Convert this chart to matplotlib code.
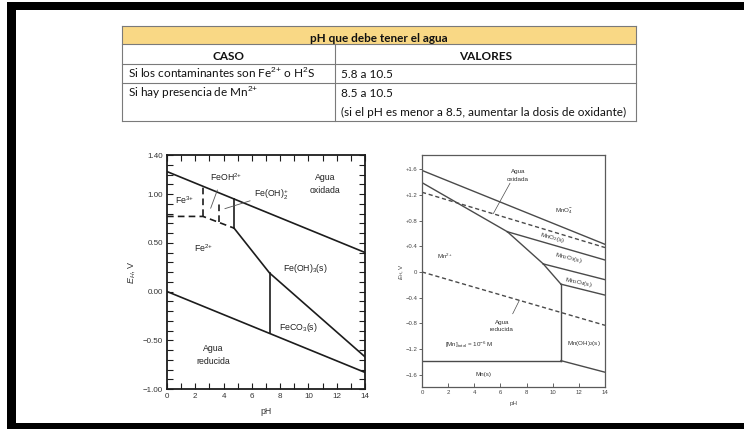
import matplotlib
matplotlib.use('Agg')
import matplotlib.pyplot as plt
from matplotlib.patches import Rectangle

plt.rcParams['font.family'] = ['Liberation Sans', 'DejaVu Sans']
plt.rcParams['mathtext.fontset'] = 'custom'
plt.rcParams['mathtext.rm'] = 'Liberation Sans'
plt.rcParams['mathtext.it'] = 'Liberation Sans:italic'
plt.rcParams['mathtext.bf'] = 'Liberation Sans:bold'

# ---- tabla ----
table_title = 'pH que debe tener el agua'
table_header = ['CASO', 'VALORES']
table_casos = ['Si los contaminantes son Fe$^{2{+}}$ o H$^{2}$S', 'Si hay presencia de Mn$^{2{+}}$']
table_valores = [['5.8 a 10.5'],
                 ['8.5 a 10.5', '(si el pH es menor a 8.5, aumentar la dosis de oxidante)']]

# ---- diagrama Fe ----
ph_ticks = [0, 2, 4, 6, 8, 10, 12, 14]
fe_yticks = [-1.0, -0.5, 0.0, 0.5, 1.0, 1.4]
fe_yticklabels = ['\u22121.00', '\u22120.50', '0.00', '0.50', '1.00', '1.40']

fe_agua_ox_ph, fe_agua_ox_e = [0, 14], [1.23, 0.40]
fe_agua_red_ph, fe_agua_red_e = [0, 14], [0.0, -0.83]
fe_oh2_ph, fe_oh2_e = [4.74, 4.74], [0.95, 0.65]
fe_oh3_ph, fe_oh3_e = [4.74, 7.25, 14], [0.65, 0.19, -0.67]
fe_co3_ph, fe_co3_e = [7.25, 7.25], [0.19, -0.43]
# lineas discontinuas
fe3_fe2_ph, fe3_fe2_e = [0, 2.55, 4.74], [0.77, 0.77, 0.65]
fe3_feoh_ph, fe3_feoh_e = [2.55, 2.55], [0.77, 1.08]
feoh_feoh2_ph, feoh_feoh2_e = [3.68, 3.68], [0.71, 0.93]
# lineas guia de etiquetas
fe_guia1_ph, fe_guia1_e = [3.56, 3.09], [1.04, 0.855]
fe_guia2_ph, fe_guia2_e = [5.87, 4.10], [0.93, 0.85]

fe_labels = ['Agua\noxidada', 'FeOH$^{2{+}}$', 'Fe(OH)$_2^{+}$', 'Fe$^{3{+}}$', 'Fe$^{2{+}}$',
             'Fe(OH)$_3$(s)', 'FeCO$_3$(s)', 'Agua\nreducida']
fe_label_ph = [11.2, 4.2, 7.4, 1.24, 2.6, 9.76, 9.3, 3.3]
fe_label_e = [1.10, 1.17, 0.99, 0.94, 0.445, 0.24, -0.37, -0.65]

# ---- diagrama Mn ----
mn_yticks = [-1.6, -1.2, -0.8, -0.4, 0, 0.4, 0.8, 1.2, 1.6]
mn_yticklabels = ['\u22121.6', '\u22121.2', '\u22120.8', '\u22120.4', '0', '+0.4', '+0.8', '+1.2', '+1.6']

mn_mno4_ph, mn_mno4_e = [0, 14], [1.58, 0.43]
mn2_mno2_ph, mn2_mno2_e = [0, 6.53], [1.39, 0.626]
mno2_mn2o3_ph, mno2_mn2o3_e = [6.53, 14], [0.626, 0.186]
mn2_mn2o3_ph, mn2_mn2o3_e = [6.53, 9.28], [0.626, 0.125]
mn2o3_mn3o4_ph, mn2o3_mn3o4_e = [9.28, 14], [0.125, -0.12]
mn2_mn3o4_ph, mn2_mn3o4_e = [9.28, 10.63], [0.125, -0.19]
mn3o4_mnoh2_ph, mn3o4_mnoh2_e = [10.63, 14], [-0.19, -0.36]
mn2_mnoh2_ph, mn2_mnoh2_e = [10.63, 10.63], [-0.19, -1.38]
mn2_mns_ph, mn2_mns_e = [0, 10.63], [-1.38, -1.38]
mnoh2_mns_ph, mnoh2_mns_e = [10.63, 14], [-1.38, -1.56]
mn_agua_ox_ph, mn_agua_ox_e = [0, 14], [1.24, 0.38]
mn_agua_red_ph, mn_agua_red_e = [0, 14], [0.0, -0.83]
mn_guia1_ph, mn_guia1_e = [6.73, 5.46], [1.38, 0.91]
mn_guia2_ph, mn_guia2_e = [6.94, 7.44], [-0.65, -0.445]

mn_labels = ['Agua\noxidada', 'MnO$_4^{-}$', 'Mn$^{2{+}}$', 'Agua\nreducida',
             '[Mn]$_{\\mathrm{total}}$ = 10$^{{-}6}$ M', 'Mn(OH)$_2$(s)', 'Mn(s)']
mn_label_ph = [7.35, 10.9, 1.76, 6.1, 3.62, 12.35, 4.69]
mn_label_e = [1.50, 0.94, 0.25, -0.84, -1.14, -1.12, -1.60]
mn_rot_labels = ['MnO$_2$(s)', 'Mn$_2$O$_3$(s)', 'Mn$_3$O$_4$(s)']
mn_rot_ph = [10.0, 11.2, 11.95]
mn_rot_e = [0.53, 0.22, -0.17]
mn_rot_ang = [-15, -14, -12]

W, H = 744, 429
fig = plt.figure(figsize=(W / 100, H / 100), dpi=100)

# fondo en pixeles: marco negro y tabla
bg = fig.add_axes([0, 0, 1, 1])
bg.set_xlim(0, W)
bg.set_ylim(H, 0)
bg.axis('off')
bg.add_patch(Rectangle((7, 2), W - 7, 8, color='black', lw=0))
bg.add_patch(Rectangle((7, 2), 9, 425, color='black', lw=0))
bg.add_patch(Rectangle((7, 423), W - 7, 6, color='black', lw=0))

tx0, tx1, tx2 = 122, 335, 636
ty = [26, 44, 64, 83, 121]
bg.add_patch(Rectangle((tx0, ty[0]), tx2 - tx0, ty[1] - ty[0], facecolor='#f9d885', lw=0))
lc = '#7a7a7a'
for y in ty:
    bg.plot([tx0, tx2], [y, y], color=lc, lw=0.8)
for x in [tx0, tx2]:
    bg.plot([x, x], [ty[0], ty[-1]], color=lc, lw=0.8)
bg.plot([tx1, tx1], [ty[1], ty[-1]], color=lc, lw=0.8)

tfont = dict(family=['Lato', 'DejaVu Sans'], fontsize=8.5, color='#111111', va='baseline')
bg.text((tx0 + tx2) / 2, 41.5, table_title, ha='center', fontweight='bold', **tfont)
bg.text((tx0 + tx1) / 2, 59.5, table_header[0], ha='center', fontweight='bold', **tfont)
bg.text((tx1 + tx2) / 2, 59.5, table_header[1], ha='center', fontweight='bold', **tfont)
base = [78.5, 97]
for i, caso in enumerate(table_casos):
    bg.text(128, base[i], caso, ha='left', **tfont)
    for j, v in enumerate(table_valores[i]):
        bg.text(341, base[i] + 19 * j, v, ha='left', **tfont)

# ---- grafico Fe ----
ax1 = fig.add_axes([167 / W, 1 - 389 / H, 198 / W, 234 / H])
k = '#1c1c1c'
for ph, e in [(fe_agua_ox_ph, fe_agua_ox_e), (fe_agua_red_ph, fe_agua_red_e),
              (fe_oh2_ph, fe_oh2_e), (fe_oh3_ph, fe_oh3_e), (fe_co3_ph, fe_co3_e)]:
    ax1.plot(ph, e, color=k, lw=1.2)
for ph, e in [(fe3_fe2_ph, fe3_fe2_e), (fe3_feoh_ph, fe3_feoh_e), (feoh_feoh2_ph, feoh_feoh2_e)]:
    ax1.plot(ph, e, color=k, lw=1.2, linestyle=(0, (4, 2.5)))
for ph, e in [(fe_guia1_ph, fe_guia1_e), (fe_guia2_ph, fe_guia2_e)]:
    ax1.plot(ph, e, color='#555555', lw=0.6)
for s, x, y in zip(fe_labels, fe_label_ph, fe_label_e):
    ax1.text(x, y, s, ha='center', va='center', fontsize=6.3, color='#222222', linespacing=1.6)

ax1.set_xlim(0, 14)
ax1.set_ylim(-1.0, 1.4)
ax1.set_xticks(ph_ticks)
ax1.set_xticks(range(15), minor=True)
ax1.set_yticks(fe_yticks)
ax1.set_yticklabels(fe_yticklabels)
ax1.set_yticks([v / 10 for v in range(-10, 15)], minor=True)
ax1.tick_params(which='both', direction='in', top=True, right=True, color=k, width=0.8)
ax1.tick_params(which='major', length=4, labelsize=5.8, labelcolor='#333333', pad=3)
ax1.tick_params(which='minor', length=4)
for sp in ax1.spines.values():
    sp.set_linewidth(1.3)
    sp.set_color(k)
ax1.set_xlabel('pH', fontsize=6.3, color='#333333')
ax1.xaxis.set_label_coords(0.5, -0.075)
ax1.set_ylabel('$E_H$, V', fontsize=6.5, color='#333333')
ax1.yaxis.set_label_coords(-0.15, 0.5)

# ---- grafico Mn ----
ax2 = fig.add_axes([422 / W, 1 - 387 / H, 183 / W, 232 / H])
g = '#4a4a4a'
for ph, e in [(mn_mno4_ph, mn_mno4_e), (mn2_mno2_ph, mn2_mno2_e), (mno2_mn2o3_ph, mno2_mn2o3_e),
              (mn2_mn2o3_ph, mn2_mn2o3_e), (mn2o3_mn3o4_ph, mn2o3_mn3o4_e),
              (mn2_mn3o4_ph, mn2_mn3o4_e), (mn3o4_mnoh2_ph, mn3o4_mnoh2_e),
              (mn2_mnoh2_ph, mn2_mnoh2_e), (mn2_mns_ph, mn2_mns_e), (mnoh2_mns_ph, mnoh2_mns_e)]:
    ax2.plot(ph, e, color=g, lw=1.0)
for ph, e in [(mn_agua_ox_ph, mn_agua_ox_e), (mn_agua_red_ph, mn_agua_red_e)]:
    ax2.plot(ph, e, color=g, lw=1.0, linestyle=(0, (3, 2)))
for ph, e in [(mn_guia1_ph, mn_guia1_e), (mn_guia2_ph, mn_guia2_e)]:
    ax2.plot(ph, e, color=g, lw=0.5)
for s, x, y in zip(mn_labels, mn_label_ph, mn_label_e):
    ax2.text(x, y, s, ha='center', va='center', fontsize=4.5, color='#333333', linespacing=1.6)
for s, x, y, r in zip(mn_rot_labels, mn_rot_ph, mn_rot_e, mn_rot_ang):
    ax2.text(x, y, s, ha='center', va='center', fontsize=4.5, color='#333333', rotation=r,
             rotation_mode='anchor')

ax2.set_xlim(0, 14)
ax2.set_ylim(-1.79, 1.82)
ax2.set_xticks(ph_ticks)
ax2.set_yticks(mn_yticks)
ax2.set_yticklabels(mn_yticklabels)
ax2.tick_params(axis='x', direction='in', length=3, width=0.6, color=g, labelsize=4.3,
                labelcolor='#444444', pad=2.5)
ax2.tick_params(axis='y', direction='out', length=2.5, width=0.6, color=g, labelsize=4.3,
                labelcolor='#444444', pad=1)
for sp in ax2.spines.values():
    sp.set_linewidth(0.9)
    sp.set_color('#5a5a5a')
ax2.set_xlabel('pH', fontsize=4.5, color='#444444')
ax2.xaxis.set_label_coords(0.5, -0.06)
ax2.set_ylabel('$E_H$, V', fontsize=4.5, color='#444444')
ax2.yaxis.set_label_coords(-0.09, 0.5)

fig.savefig('out.png', dpi=100)
